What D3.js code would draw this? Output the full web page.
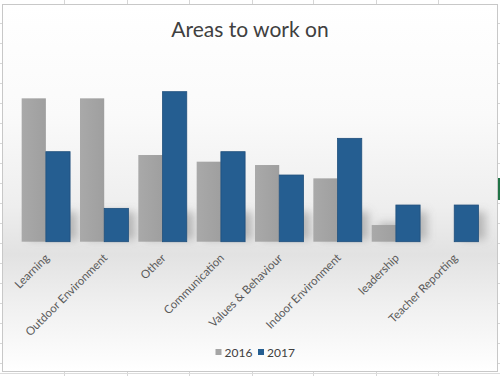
<!DOCTYPE html>
<html><head><meta charset="utf-8">
<script src="https://cdn.jsdelivr.net/npm/d3@7"></script>
<style>html,body{margin:0;padding:0;background:#fff}svg{display:block}</style>
</head><body>
<svg id="c" width="500" height="376"></svg>
<script>
const categories = ["Learning","Outdoor Environment","Other","Communication","Values & Behaviour","Indoor Environment","leadership","Teacher Reporting"];
const seriesNames = ["2016","2017"];
const values2016 = [43,43,26,24,23,19,5,0];
const values2017 = [27,10,45,27,20,31,11,11];
const title = "Areas to work on";

const colors = {"2016":"#a5a5a5","2017":"#255e91"};
const svg = d3.select("#c");
const defs = svg.append("defs");

// background gradient
const bg = defs.append("linearGradient").attr("id","bg").attr("x1",0).attr("y1",0).attr("x2",0).attr("y2",1);
[[0,"#ffffff"],[0.3,"#fafafa"],[0.55,"#eeeeee"],[0.68,"#e2e2e2"],[0.82,"#f0f0f0"],[1,"#ffffff"]]
  .forEach(([o,c])=>bg.append("stop").attr("offset",o).attr("stop-color",c));
const blur = defs.append("filter").attr("id","blur").attr("x","-50%").attr("y","-50%").attr("width","200%").attr("height","200%");
blur.append("feGaussianBlur").attr("stdDeviation",4);
const gGrad = defs.append("linearGradient").attr("id","g2016").attr("x1",0).attr("y1",0).attr("x2",1).attr("y2",0);
[[0,"#a9a9a9"],[1,"#9f9f9f"]].forEach(([o,c])=>gGrad.append("stop").attr("offset",o).attr("stop-color",c));

// spreadsheet grid decoration
const grid = svg.append("g").attr("stroke","#d6d6d6").attr("stroke-width",1);
[64,127,189,252,313,376,438].forEach(x=>{
  grid.append("line").attr("x1",x+0.5).attr("x2",x+0.5).attr("y1",0).attr("y2",4);
  grid.append("line").attr("x1",x+0.5).attr("x2",x+0.5).attr("y1",372).attr("y2",376);
});
d3.range(23,372,20).forEach(y=>{
  grid.append("line").attr("x1",0).attr("x2",2).attr("y1",y+0.5).attr("y2",y+0.5);
  grid.append("line").attr("x1",498).attr("x2",500).attr("y1",y+0.5).attr("y2",y+0.5);
});
svg.append("rect").attr("x",2.5).attr("y",4.5).attr("width",495).attr("height",367)
  .attr("fill","url(#bg)").attr("stroke","#c8c8c8");
svg.append("line").attr("x1",0).attr("x2",500).attr("y1",373.5).attr("y2",373.5).attr("stroke","#dcdcdc");
svg.append("rect").attr("x",498).attr("y",178).attr("width",2).attr("height",22).attr("fill","#217346");

// title
svg.append("text").attr("x",250).attr("y",37).attr("text-anchor","middle")
  .attr("font-family","Lato, 'Open Sans', sans-serif").attr("font-size",21).attr("fill","#404040").text(title);

const x0 = d3.scaleBand().domain(categories).range([16.7,483.4]).paddingInner(0.17).paddingOuter(0.085);
const x1 = d3.scaleBand().domain(seriesNames).range([0,x0.bandwidth()]);
const y = d3.scaleLinear().domain([0,50]).range([241.7,75]);

const data = categories.map((c,i)=>({cat:c, vals:[{s:"2016",v:values2016[i]},{s:"2017",v:values2017[i]}]}));

// shadows
const sh = svg.append("g").attr("filter","url(#blur)");
data.forEach(d=>d.vals.forEach(b=>{
  if(b.v<=0) return;
  const h = Math.min(y(0)-y(b.v), 28);
  sh.append("rect").attr("x",x0(d.cat)+x1(b.s)+7).attr("y",y(0)-h-2)
    .attr("width",x1.bandwidth()).attr("height",h).attr("fill","#7a7a7a").attr("opacity",0.45);
}));

const groups = svg.append("g").selectAll("g").data(data).join("g")
  .attr("transform",d=>`translate(${x0(d.cat)},0)`);
groups.selectAll("rect").data(d=>d.vals.filter(b=>b.v>0)).join("rect")
  .attr("x",b=>x1(b.s)).attr("y",b=>y(b.v)).attr("width",x1.bandwidth()).attr("height",b=>y(0)-y(b.v))
  .attr("fill",b=>b.s==="2016"?"url(#g2016)":colors[b.s])
  .attr("stroke",b=>b.s==="2016"?"none":"#1f4f7c").attr("stroke-width",0.8);

// x axis labels
const xa = svg.append("g").attr("transform",`translate(0,${y(0)})`)
  .call(d3.axisBottom(x0).tickSize(0).tickPadding(0));
xa.select(".domain").remove();
xa.selectAll("text").attr("font-family","Lato, 'Open Sans', sans-serif").attr("font-size",11.5).attr("fill","#595959")
  .attr("text-anchor","end").attr("dy",0).attr("y",0)
  .attr("transform","translate(4,17) rotate(-45)");

// legend
const lg = svg.append("g").selectAll("g").data(seriesNames).join("g")
  .attr("transform",(d,i)=>`translate(${215.5+i*42.5},0)`);
lg.append("rect").attr("x",0).attr("y",349).attr("width",6).attr("height",6).attr("fill",d=>colors[d]);
lg.append("text").attr("x",9).attr("y",357).attr("font-family","Lato, 'Open Sans', sans-serif")
  .attr("font-size",12).attr("fill","#404040").text(d=>d);
</script>
</body></html>
